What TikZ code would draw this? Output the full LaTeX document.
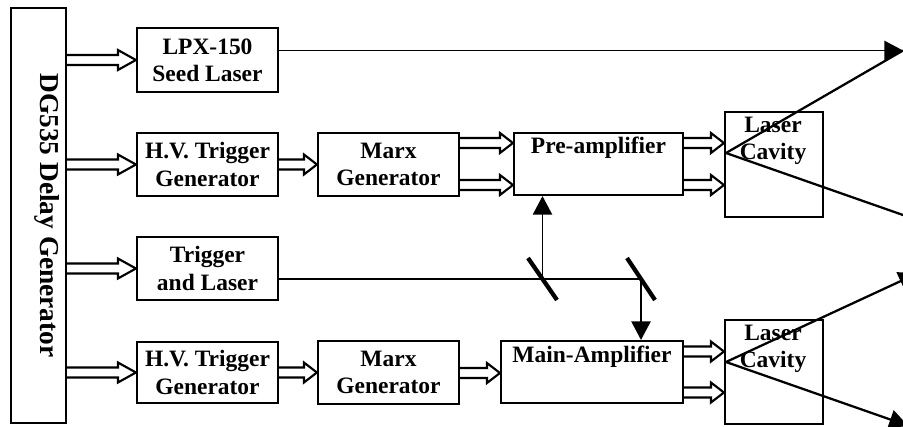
\documentclass[tikz,border=0pt]{standalone}
\usepackage{fontspec}
\setmainfont{Liberation Serif}
\usetikzlibrary{arrows.meta,calc}
\begin{document}
\begin{tikzpicture}[x=0.75pt,y=-0.75pt,
  box/.style={draw, line width=1.6pt, inner sep=0pt},
  txt/.style={font=\fontsize{17.6}{20.4}\selectfont\bfseries, align=center, inner sep=0pt},
  hollow/.style={line width=1.6pt, line join=miter,
    to path={let \p1=(\tikztostart), \p2=(\tikztotarget) in
      (\x1,\y1+3.75pt) -- (\x2-#1,\y1+3.75pt) -- (\x2-#1,\y1+7.5pt) -- (\x2,\y1)
      -- (\x2-#1,\y1-7.5pt) -- (\x2-#1,\y1-3.75pt) -- (\x1,\y1-3.75pt)}},
  hollow/.default=9.75pt,
  fine/.style={line width=1.25pt},
  ray/.style={line width=1.7pt},
  mirror/.style={line width=3.2pt},
  arr/.style={-{Triangle[length=14pt,width=14.5pt]}}
]
\useasboundingbox (0,0) rectangle (903,426);
\clip (0,0) rectangle (903,426);

% boxes
\node[box, minimum width=41.25pt, minimum height=311.25pt] (dg) at (38.5,215.5) {};
\node[txt, font=\fontsize{20.5}{24}\selectfont\bfseries, rotate=-90] (dgt) at (47,215.5) {DG535 Delay Generator};

\node[box, txt, minimum width=105.75pt, minimum height=48pt] (lpx) at (207.5,60) {LPX-150\\Seed Laser};
\node[box, txt, minimum width=105.75pt, minimum height=47.25pt] (hv1) at (207.5,164.5) {H.V. Trigger\\Generator};
\node[box, txt, minimum width=105.75pt, minimum height=47.25pt] (trig) at (207.5,268.5) {Trigger\\and Laser};
\node[box, txt, minimum width=105.75pt, minimum height=45.75pt] (hv2) at (207.5,372.5) {H.V. Trigger\\Generator};

\node[box, txt, minimum width=105.75pt, minimum height=47.25pt] (marx1) at (388.5,164.5) {Marx\\Generator};
\node[box, txt, minimum width=105.75pt, minimum height=47.25pt] (marx2) at (388.5,372.5) {Marx\\Generator};

\node[box, minimum width=126.75pt, minimum height=46.5pt] (pre) at (598.5,164) {};
\node[txt] (pret) at (598.5,148) {Pre-amplifier};
\node[box, minimum width=136.5pt, minimum height=46.5pt] (main) at (592,372) {};
\node[txt] (maint) at (592,357) {Main-Amplifier};

\node[box, minimum width=73.5pt, minimum height=78.75pt] (cav1) at (774,164.5) {};
\node[txt] (cav1t) at (773,141) {Laser\\Cavity};
\node[box, minimum width=73.5pt, minimum height=78pt] (cav2) at (774,372) {};
\node[txt] (cav2t) at (773,349) {Laser\\Cavity};

% hollow arrows
\draw[hollow=13.5pt] (dg.east |- lpx.west) to (lpx.west);
\draw[hollow=13.5pt] (dg.east |- hv1.west) to (hv1.west);
\draw[hollow=13.5pt] (dg.east |- trig.west) to (trig.west);
\draw[hollow=13.5pt] (dg.east |- hv2.west) to (hv2.west);
\draw[hollow] (hv1.east) to (marx1.west);
\draw[hollow] (hv2.east) to (marx2.west);
\draw[hollow] (marx1.east |- 0,143) to (pre.west |- 0,143);
\draw[hollow] (marx1.east |- 0,185) to (pre.west |- 0,185);
\draw[hollow] (marx2.east |- 0,373) to (main.west |- 0,373);
\draw[hollow] (pre.east |- 0,143) to (cav1.west |- 0,143);
\draw[hollow] (pre.east |- 0,185) to (cav1.west |- 0,185);
\draw[hollow] (main.east |- 0,351.5) to (cav2.west |- 0,351.5);
\draw[hollow] (main.east |- 0,392.5) to (cav2.west |- 0,392.5);

% trigger laser line and mirrors
\coordinate (m1) at (542.5,279);
\coordinate (m2) at (641,279);
\draw[fine] (trig.east |- m1) -- (m2);
\draw[fine, arr] (m1) -- (m1 |- pre.south);
\draw[fine, arr] (m2) -- (m2 |- main.north);
\draw[mirror] ($(m1)+(-14.5,-21)$) -- ($(m1)+(14.5,21)$);
\draw[mirror] ($(m2)+(-14,-21)$) -- ($(m2)+(14,21)$);

% output beams
\coordinate (c1) at (726,153);
\coordinate (c2) at (726,362);
\coordinate (o1) at (903,50.5);
\coordinate (o2) at (925,222.7);
\coordinate (o3) at (917.5,273.3);
\coordinate (o4) at (908,425.7);
\draw[fine, arr] (lpx.east |- o1) -- (o1);
\draw[ray] (c1) -- (o1);
\draw[ray, arr] (c1) -- (o2);
\draw[ray, arr] (c2) -- (o3);
\draw[ray, arr] (c2) -- (o4);
\end{tikzpicture}
\end{document}
